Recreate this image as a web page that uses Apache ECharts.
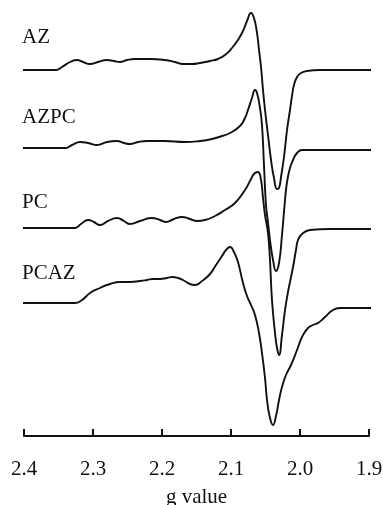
<!DOCTYPE html>
<html>
<head>
<meta charset="utf-8">
<script src="https://cdn.jsdelivr.net/npm/echarts@6/dist/echarts.min.js"></script>
<style>
  html, body { margin: 0; padding: 0; background: #fff; }
  #chart { width: 383px; height: 505px; }
</style>
</head>
<body>
<div id="chart"></div>
<script>
// spectra: g value / intensity (arbitrary units, traces stacked)
var gAZ = [2.4058, 2.3768, 2.3536, 2.3449, 2.3333, 2.3232, 2.3145, 2.3043, 2.2928, 2.2797, 2.2696, 2.2609, 2.2507, 2.2391, 2.2174, 2.1957, 2.1812, 2.1696, 2.1565, 2.1449, 2.1304, 2.1188, 2.1087, 2.0986, 2.0899, 2.0826, 2.0768, 2.0710, 2.0667, 2.0623, 2.0594, 2.0565, 2.0536, 2.0507, 2.0464, 2.0420, 2.0377, 2.0333, 2.0304, 2.0275, 2.0232, 2.0188, 2.0145, 2.0116, 2.0087, 2.0043, 1.9986, 1.9899, 1.9710, 1.9348, 1.8942];
var iAZ = [366, 366, 366, 369, 374, 376, 374, 372, 374, 376, 375, 374, 376, 377, 377, 376, 374, 372, 372, 373, 375, 377, 381, 388, 396, 405, 415, 423, 418, 403, 386, 369, 346, 326, 301, 276, 258, 247, 248, 259, 279, 306, 326, 340, 351, 359, 363, 365, 366, 366, 366];

var gAZPC = [2.4014, 2.3696, 2.3406, 2.3304, 2.3188, 2.3072, 2.2942, 2.2797, 2.2652, 2.2551, 2.2464, 2.2348, 2.2217, 2.1957, 2.1667, 2.1449, 2.1275, 2.1130, 2.1014, 2.0870, 2.0797, 2.0754, 2.0696, 2.0652, 2.0623, 2.0580, 2.0551, 2.0522, 2.0493, 2.0464, 2.0435, 2.0391, 2.0348, 2.0304, 2.0261, 2.0217, 2.0188, 2.0145, 2.0101, 2.0043, 1.9971, 1.9710, 1.9275, 1.8942];
var iAZPC = [288, 288, 288, 291, 294, 293, 291, 294, 295, 293, 292, 294, 295, 295, 294, 295, 297, 300, 303, 310, 318, 326, 338, 346, 343, 328, 311, 271, 231, 214, 196, 176, 165, 173, 201, 236, 254, 268, 276, 283, 286, 286, 286, 286];

var gPC = [2.4058, 2.3623, 2.3261, 2.3174, 2.3072, 2.2986, 2.2899, 2.2783, 2.2652, 2.2551, 2.2464, 2.2319, 2.2145, 2.2029, 2.1942, 2.1826, 2.1710, 2.1594, 2.1493, 2.1377, 2.1232, 2.1087, 2.0942, 2.0797, 2.0725, 2.0667, 2.0609, 2.0565, 2.0536, 2.0507, 2.0464, 2.0435, 2.0406, 2.0362, 2.0333, 2.0304, 2.0261, 2.0217, 2.0174, 2.0145, 2.0101, 2.0058, 2.0029, 1.9971, 1.9855, 1.9565, 1.8942];
var iPC = [208, 208, 208, 212, 216, 214, 211, 215, 218, 215, 212, 215, 218, 216, 214, 217, 219, 217, 215, 216, 220, 226, 233, 246, 255, 262, 264, 256, 238, 221, 203, 176, 136, 103, 88, 81, 101, 126, 144, 154, 169, 186, 196, 202, 206, 207, 207];

var gPCAZ = [2.4029, 2.3623, 2.3261, 2.3159, 2.3043, 2.2899, 2.2754, 2.2609, 2.2464, 2.2319, 2.2217, 2.2130, 2.2029, 2.1928, 2.1841, 2.1768, 2.1696, 2.1594, 2.1522, 2.1420, 2.1304, 2.1217, 2.1130, 2.1072, 2.1014, 2.0957, 2.0899, 2.0826, 2.0768, 2.0710, 2.0652, 2.0594, 2.0551, 2.0507, 2.0478, 2.0435, 2.0391, 2.0348, 2.0304, 2.0261, 2.0203, 2.0130, 2.0043, 1.9971, 1.9884, 1.9812, 1.9739, 1.9638, 1.9522, 1.9420, 1.8942];
var iPCAZ = [133, 133, 133, 136, 143, 148, 152, 154, 154, 155, 156, 157, 157, 158, 159, 158, 156, 152, 151, 155, 162, 171, 180, 186, 189, 184, 174, 153, 140, 131, 121, 103, 83, 58, 36, 18, 11, 20, 36, 49, 61, 71, 86, 99, 108, 111, 113, 119, 126, 128, 128];

var traceNames = ['AZ', 'AZPC', 'PC', 'PCAZ'];
var labelY = [38, 118, 203, 274];

var serif = '"Liberation Serif", "DejaVu Serif", serif';

function zip(g, v) {
    var out = [];
    for (var i = 0; i < g.length; i++) out.push([g[i], v[i]]);
    return out;
}

var traces = [zip(gAZ, iAZ), zip(gAZPC, iAZPC), zip(gPC, iPC), zip(gPCAZ, iPCAZ)];

var series = traces.map(function (d, k) {
    return {
        name: traceNames[k],
        type: 'line',
        data: d,
        smooth: 0.5,
        showSymbol: false,
        clip: false,
        lineStyle: { color: '#111', width: 1.9 }
    };
});

var myChart = echarts.init(document.getElementById('chart'));

myChart.setOption({
    animation: false,
    backgroundColor: '#fff',
    grid: { left: 24, right: 14, top: 0, bottom: 69, outerBoundsMode: 'none', containLabel: false },
    xAxis: {
        type: 'value',
        inverse: true,
        min: 1.9,
        max: 2.4,
        interval: 0.1,
        name: 'g value',
        nameLocation: 'middle',
        nameGap: 51,
        nameTextStyle: { fontFamily: serif, fontSize: 21, color: '#111' },
        axisLine: { lineStyle: { color: '#111', width: 2 } },
        axisTick: { inside: true, length: 7, lineStyle: { color: '#111', width: 2 } },
        axisLabel: {
            margin: 23,
            fontFamily: serif,
            fontSize: 21,
            color: '#111',
            formatter: function (v) { return v.toFixed(1); }
        },
        splitLine: { show: false }
    },
    yAxis: { type: 'value', min: 0, max: 436, show: false },
    graphic: traceNames.map(function (t, k) {
        return {
            type: 'text',
            left: 22,
            top: labelY[k] - 11,
            style: { text: t, font: '21px ' + serif, fill: '#111' }
        };
    }),
    series: series
});
</script>
</body>
</html>
